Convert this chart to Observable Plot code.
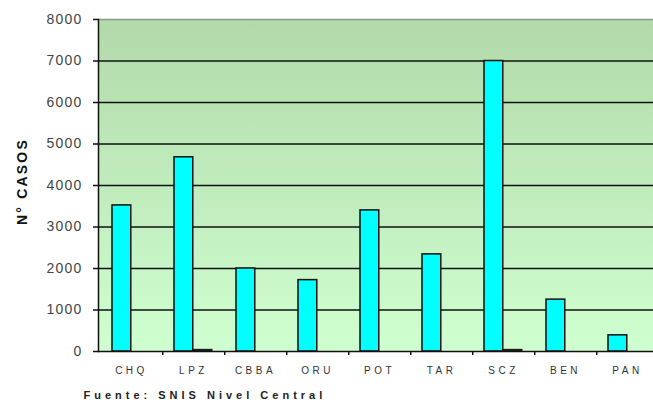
<!DOCTYPE html>
<html>
<head>
<meta charset="utf-8">
<script src="https://cdn.jsdelivr.net/npm/d3@7"></script>
<script src="https://cdn.jsdelivr.net/npm/@observablehq/plot@0.6"></script>
<style>
  html, body { margin: 0; padding: 0; background: #fff; }
  #chart svg { display: block; }
  #chart [aria-label="y-axis tick label"] text { letter-spacing: 1.2px; }
  #chart [aria-label="x-axis tick label"] text { letter-spacing: 3.5px; }
</style>
</head>
<body>
<div id="chart"></div>
<script>
const categories = ["CHQ", "LPZ", "CBBA", "ORU", "POT", "TAR", "SCZ", "BEN", "PAN"];
const serie1 = [3520, 4680, 2000, 1720, 3400, 2340, 7000, 1250, 390];
const serie2 = [0, 40, 0, 0, 0, 0, 40, 0, 0];
const yTicks = [0, 1000, 2000, 3000, 4000, 5000, 6000, 7000, 8000];
const yLabel = "N° CASOS";
const source = "Fuente: SNIS Nivel Central";

const d1 = categories.map((c, i) => ({cat: c, v: serie1[i]}));
const d2 = categories.map((c, i) => ({cat: c, v: serie2[i]}));

const W = 653, H = 406;
const x0 = 98, x1 = 660;
const bw = (x1 - x0) / categories.length;

const chart = Plot.plot({
  width: W,
  height: H,
  marginLeft: x0,
  marginRight: 0,
  marginTop: 19,
  marginBottom: 55,
  style: {fontFamily: "Arial, 'Liberation Sans', sans-serif", background: "#fff", overflow: "hidden"},
  x: {domain: categories, range: [x0, x1], padding: 0, label: null},
  y: {domain: [0, 8000], label: null},
  marks: [
    Plot.frame({fill: "url(#bgGrad)", stroke: null}),
    Plot.ruleY(yTicks.filter(t => t > 0 && t < 8000), {stroke: "#111", strokeWidth: 1.3}),
    Plot.ruleY([8000], {stroke: "#8a9a88", strokeWidth: 1.3}),
    Plot.barY(d1, {x: "cat", y: "v", fill: "#00ffff", stroke: "#111", strokeWidth: 1.5, insetLeft: 12, insetRight: bw / 2}),
    Plot.barY(d2, {x: "cat", y: "v", fill: "#222", stroke: "#111", strokeWidth: 1, insetLeft: bw / 2, insetRight: 12}),
    Plot.ruleY([0], {stroke: "#111", strokeWidth: 1.5}),
    Plot.ruleX(categories, {x: d => d, dx: bw / 2, y1: 0, y2: 0, insetBottom: -4, stroke: "#111", strokeWidth: 1.5}),
    Plot.frame({anchor: "left", stroke: "#111", strokeWidth: 1.5}),
    Plot.axisY({ticks: yTicks, tickSize: 5, tickPadding: 11, tickFormat: d3.format("d"), fontSize: 14, fill: "#444", stroke: "#111", strokeWidth: 1.5, label: null}),
    Plot.axisX({tickSize: 0, tickPadding: 15, fontSize: 10, fill: "#333", label: null}),
    Plot.text([yLabel], {frameAnchor: "left", dx: -76, rotate: -90, fontSize: 14, fontWeight: "bold", fill: "#111", textAnchor: "middle", dy: -4}),
    Plot.text([source], {frameAnchor: "bottom-left", dx: -15, dy: 47, fontSize: 11, fontWeight: "bold", fill: "#222", textAnchor: "start"})
  ]
});

const ns = "http://www.w3.org/2000/svg";
const defs = document.createElementNS(ns, "defs");
const grad = document.createElementNS(ns, "linearGradient");
grad.setAttribute("id", "bgGrad");
grad.setAttribute("x1", "0"); grad.setAttribute("y1", "0");
grad.setAttribute("x2", "0"); grad.setAttribute("y2", "1");
[["0%", "#b2d9a9"], ["100%", "#cfffd0"]].forEach(([o, c]) => {
  const s = document.createElementNS(ns, "stop");
  s.setAttribute("offset", o);
  s.setAttribute("stop-color", c);
  grad.appendChild(s);
});
defs.appendChild(grad);
chart.insertBefore(defs, chart.firstChild);

chart.querySelectorAll('[aria-label="text"] text').forEach(t => {
  if (t.textContent === yLabel) t.style.letterSpacing = "2.2px";
  if (t.textContent === source) t.style.letterSpacing = "4px";
});

document.getElementById("chart").appendChild(chart);
</script>
</body>
</html>
